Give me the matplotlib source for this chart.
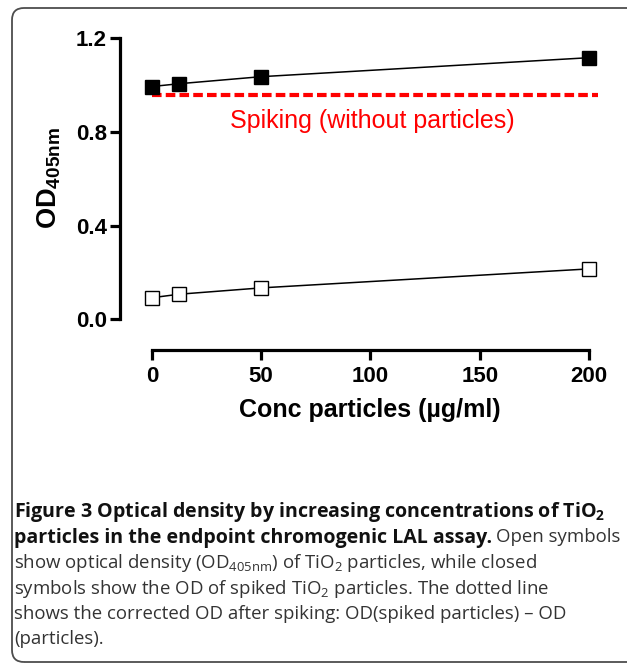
import matplotlib
matplotlib.use("Agg")
import matplotlib.pyplot as plt
from matplotlib.patches import FancyBboxPatch
from matplotlib.transforms import IdentityTransform

# ---------------- data ----------------
conc = [0, 12.5, 50, 200]
od_spiked = [0.993, 1.005, 1.035, 1.116]
od_particles = [0.092, 0.107, 0.134, 0.215]
spike_x = [0, 204]
spike_y = [0.958, 0.958]
spike_label = "Spiking (without particles)"
xticks = [0, 50, 100, 150, 200]
yticks = [0.0, 0.4, 0.8, 1.2]
ytick_labels = ["0.0", "0.4", "0.8", "1.2"]

W, H = 627, 664
plt.rcParams['mathtext.fontset'] = 'custom'
plt.rcParams['mathtext.rm'] = 'Open Sans'
plt.rcParams['mathtext.sf'] = 'Open Sans:bold'
plt.rcParams['mathtext.bf'] = 'Liberation Sans:bold'
plt.rcParams['font.family'] = ['Liberation Sans', 'DejaVu Sans']

fig = plt.figure(figsize=(W / 100, H / 100), dpi=100)

def px(x, y):
    return x / W, 1 - y / H

# axes placement (pixels)
L, R, T, B = 120, 600, 38, 350
ax = fig.add_axes([L / W, 1 - B / H, (R - L) / W, (B - T) / H])
ax.set_xlim(-14.6, 205)
ax.set_ylim(-0.131, 1.2)
ax.patch.set_alpha(0)

ax.plot(spike_x, spike_y, color='#ff0000', lw=3.0, linestyle=(0, (2.3, 1.0)),
        solid_capstyle='butt', dash_capstyle='butt', zorder=2)
ax.plot(conc, od_spiked, color='black', lw=1.1, marker='s', markersize=9.5,
        markerfacecolor='black', markeredgecolor='black', zorder=3)
ax.plot(conc, od_particles, color='black', lw=1.1, marker='s', markersize=9.5,
        markerfacecolor='white', markeredgecolor='black', markeredgewidth=1.0, zorder=3)

ax.text(101, 0.848, spike_label, color='#ff0000', fontsize=18,
        ha='center', va='center', family='Liberation Sans')

for s in ['top', 'right']:
    ax.spines[s].set_visible(False)
ax.spines['left'].set_bounds(0, 1.2)
ax.spines['bottom'].set_bounds(0, 200)
ax.spines['left'].set_linewidth(2.3)
ax.spines['bottom'].set_linewidth(2.3)
ax.set_xticks(xticks)
ax.set_yticks(yticks)
ax.set_yticklabels(ytick_labels)
ax.tick_params(axis='both', direction='out', length=7, width=2.3, labelsize=16)
ax.tick_params(axis='y', pad=2.5)
ax.tick_params(axis='x', pad=4.5)
for lab in ax.get_xticklabels() + ax.get_yticklabels():
    lab.set_fontweight('bold')
    lab.set_family('Liberation Sans')

fig.text(*px(370, 410), "Conc particles (µg/ml)", fontsize=18, fontweight='bold',
         ha='center', va='center', family='Liberation Sans')
fig.text(*px(49, 178), r"$\mathbf{OD_{405nm}}$", fontsize=19.5, rotation=90,
         ha='center', va='center')

# border
box = FancyBboxPatch((12, H - 662), 640, 654, boxstyle="round,pad=0,rounding_size=12",
                     transform=IdentityTransform(), facecolor='none',
                     edgecolor='#4d4d4d', lw=1.3)
fig.patches.append(box)

# caption
cap_fs = 14.1
reg_fs = 13.4
cx = 14
ys = [512, 537.5, 563, 588.5, 614, 639.5]
bold_c = '#111111'
reg_c = '#333333'
fig.text(*px(cx, ys[0]), r"Figure 3 Optical density by increasing concentrations of TiO$_\mathsf{2}$",
         fontsize=cap_fs, fontweight='bold', family='Open Sans', color=bold_c, va='center')
t2 = fig.text(*px(cx, ys[1]), "particles in the endpoint chromogenic LAL assay.",
              fontsize=cap_fs, fontweight='bold', family='Open Sans', color=bold_c, va='center')
fig.canvas.draw()
bb = t2.get_window_extent(renderer=fig.canvas.get_renderer())
fig.text(bb.x1 / W + 4 / W, 1 - ys[1] / H, "Open symbols", fontsize=reg_fs,
         family='Open Sans', color=reg_c, va='center')
reg_lines = [
    r"show optical density (OD$_\mathrm{405nm}$) of TiO$_\mathrm{2}$ particles, while closed",
    r"symbols show the OD of spiked TiO$_\mathrm{2}$ particles. The dotted line",
    "shows the corrected OD after spiking: OD(spiked particles) \u2013 OD",
    "(particles).",
]
for y, s in zip(ys[2:], reg_lines):
    fig.text(*px(cx, y), s, fontsize=reg_fs, family='Open Sans', color=reg_c, va='center')

fig.savefig("out.png", dpi=100)
